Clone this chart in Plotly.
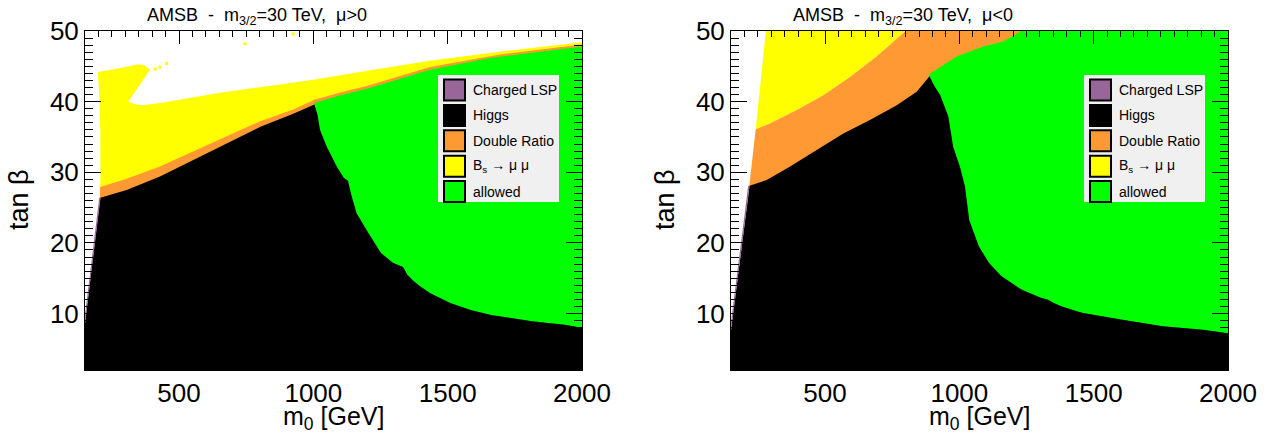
import plotly.graph_objects as go

W, H = 1272, 433

# ---------------------------------------------------------------------------
# Colours of the exclusion classes
# ---------------------------------------------------------------------------
COL_CHARGED = "#996699"
COL_HIGGS = "#000000"
COL_DR = "#ff9933"
COL_BS = "#ffff00"
COL_ALLOWED = "#00ff00"
COL_FRAME = "black"

legend_labels = ["Charged LSP", "Higgs", "Double Ratio",
                 "B<sub>s</sub> \u2192 \u03bc \u03bc", "allowed"]
legend_colors = [COL_CHARGED, COL_HIGGS, COL_DR, COL_BS, COL_ALLOWED]

panel_titles = ["AMSB\u00a0\u00a0-\u00a0\u00a0m<sub>3/2</sub>=30 TeV,\u00a0\u00a0\u03bc>0",
                "AMSB\u00a0\u00a0-\u00a0\u00a0m<sub>3/2</sub>=30 TeV,\u00a0\u00a0\u03bc<0"]

m0_range = [150, 2000]
tb_range = [2, 50]
x_tickvals = [500, 1000, 1500, 2000]
y_tickvals = [10, 20, 30, 40, 50]

# ---------------------------------------------------------------------------
# mu > 0 : region boundaries (m0 [GeV], tan beta)
# ---------------------------------------------------------------------------
pos_bs_m0 = [208, 208, 207, 204, 198, 260, 320, 350, 372, 392, 311, 340, 367,
             450, 550, 677, 850, 1000, 1174, 1434, 1700, 2000, 2000]
pos_bs_tb = [2, 28.0, 36.0, 40.4, 44.2, 44.6, 45.0, 45.3, 45.1, 44.5, 40.0, 39.6,
             39.5, 39.9, 40.6, 41.4, 42.3, 43.1, 44.2, 45.8, 47.1, 48.4, 2]
pos_bs_dots_m0 = [411, 429, 454, 745, 925]
pos_bs_dots_tb = [44.6, 44.9, 45.4, 48.2, 49.6]

pos_dr_m0 = [206, 206, 300, 429, 550, 677, 800, 925, 1006, 1100, 1205, 1434,
             1700, 2000, 2000]
pos_dr_tb = [2, 27.9, 29.0, 30.8, 32.9, 35.1, 37.2, 38.9, 40.3, 41.3, 42.3, 44.9,
             46.7, 48.1, 2]

pos_allowed_m0 = [1004, 1100, 1205, 1434, 1662, 2000, 2000, 1004]
pos_allowed_tb = [39.8, 40.9, 41.9, 44.5, 46.2, 47.8, 2, 2]

pos_higgs_m0 = [150, 150, 207, 305, 429, 553, 677, 801, 925, 1000, 1004, 1015,
                1025, 1050, 1087, 1114, 1129, 1140, 1161, 1205, 1251, 1296, 1334,
                1350, 1373, 1400, 1434, 1510, 1586, 1662, 1815, 1937, 2000, 2000]
pos_higgs_tb = [2, 8.6, 26.4, 27.5, 29.4, 31.7, 34.1, 36.4, 38.3, 39.5, 39.6, 38.2,
                36.0, 33.6, 30.8, 29.2, 28.8, 27.0, 24.2, 21.4, 18.6, 17.2, 16.6,
                15.5, 14.6, 13.8, 12.9, 11.5, 10.5, 9.8, 8.9, 8.4, 8.0, 2]

pos_charged_m0 = [150, 150, 203, 208, 150]
pos_charged_tb = [8.6, 9.8, 26.4, 26.4, 8.6]

# ---------------------------------------------------------------------------
# mu < 0 : region boundaries (m0 [GeV], tan beta)
# ---------------------------------------------------------------------------
neg_bs_m0 = [242, 280, 795, 791, 692, 593, 494, 395, 295, 242]
neg_bs_tb = [36.1, 50, 50, 49.7, 46.4, 43.5, 40.9, 38.8, 36.9, 36.1]

neg_dr_m0 = [218, 242, 295, 395, 494, 593, 692, 791, 800, 2000, 2000, 218]
neg_dr_tb = [28.1, 36.1, 36.9, 38.8, 40.9, 43.5, 46.4, 49.7, 50, 50, 2, 2]

neg_allowed_m0 = [889, 990, 1089, 1163, 1231, 2000, 2000, 889]
neg_allowed_tb = [43.9, 46.4, 47.8, 48.5, 50, 50, 2, 2]

neg_higgs_m0 = [150, 150, 219, 283, 370, 469, 568, 667, 767, 841, 885, 889, 906,
                929, 959, 977, 1002, 1021, 1037, 1050, 1073, 1110, 1156, 1231,
                1306, 1329, 1352, 1382, 1457, 1608, 1759, 1910, 2000, 2000]
neg_higgs_tb = [2, 7.6, 28.1, 28.9, 30.8, 33.1, 35.5, 37.4, 39.5, 41.4, 43.3, 43.6,
                42.3, 40.9, 37.9, 33.6, 30.8, 28.0, 23.2, 21.8, 19.5, 17.2, 15.3,
                13.4, 12.2, 12.0, 11.5, 11.0, 10.1, 9.1, 8.2, 7.7, 7.2, 2]

neg_charged_m0 = [150, 150, 214, 219, 150]
neg_charged_tb = [7.6, 8.8, 28.1, 28.1, 7.6]

panels = [
    dict(layers=[(pos_bs_m0, pos_bs_tb, COL_BS),
                 (pos_dr_m0, pos_dr_tb, COL_DR),
                 (pos_allowed_m0, pos_allowed_tb, COL_ALLOWED),
                 (pos_higgs_m0, pos_higgs_tb, COL_HIGGS),
                 (pos_charged_m0, pos_charged_tb, COL_CHARGED)],
         dots=(pos_bs_dots_m0, pos_bs_dots_tb)),
    dict(layers=[(neg_bs_m0, neg_bs_tb, COL_BS),
                 (neg_dr_m0, neg_dr_tb, COL_DR),
                 (neg_allowed_m0, neg_allowed_tb, COL_ALLOWED),
                 (neg_higgs_m0, neg_higgs_tb, COL_HIGGS),
                 (neg_charged_m0, neg_charged_tb, COL_CHARGED)],
         dots=None),
]

# frame positions in pixels
FRAMES = [(85, 582), (731, 1228)]
FRAME_TOP, FRAME_BOTTOM = 31, 370


def px(x):
    return x / W


def py(y):
    return 1 - y / H


FONT = "Liberation Sans, Arial, Helvetica, sans-serif"

fig = go.Figure()
shapes = []
annotations = []

for i, panel in enumerate(panels):
    xa = "x" if i == 0 else "x2"
    ya = "y" if i == 0 else "y2"
    for xs, ys, col in panel["layers"]:
        fig.add_trace(go.Scatter(x=xs, y=ys, xaxis=xa, yaxis=ya, mode="lines",
                                 fill="toself", fillcolor=col,
                                 line=dict(width=0, color=col),
                                 hoverinfo="skip", showlegend=False))
    if panel["dots"] is not None:
        fig.add_trace(go.Scatter(x=panel["dots"][0], y=panel["dots"][1],
                                 xaxis=xa, yaxis=ya, mode="markers",
                                 marker=dict(symbol="square", size=3, color=COL_BS,
                                             line=dict(width=0)),
                                 hoverinfo="skip", showlegend=False))

    left, right = FRAMES[i]
    # panel title
    annotations.append(dict(text=panel_titles[i], x=px(left + 60), y=py(16),
                            xref="paper", yref="paper", xanchor="left",
                            yanchor="middle", showarrow=False,
                            font=dict(family=FONT, size=18, color="black")))
    # axis titles
    annotations.append(dict(text="m<sub>0</sub> [GeV]", x=px((left + right) / 2),
                            y=py(418), xref="paper", yref="paper",
                            xanchor="center", yanchor="middle", showarrow=False,
                            font=dict(family=FONT, size=25, color="black")))
    annotations.append(dict(text="tan \u03b2", x=px(left - 66), y=py(200),
                            xref="paper", yref="paper", xanchor="center",
                            yanchor="middle", textangle=-90, showarrow=False,
                            font=dict(family=FONT, size=27, color="black")))

    # legend box
    L, T = left + 353, 75
    shapes.append(dict(type="rect", xref="paper", yref="paper",
                       x0=px(L), x1=px(L + 121), y0=py(T), y1=py(T + 127),
                       fillcolor="#f0f0f0", line=dict(width=0), layer="above"))
    for k, (lab, col) in enumerate(zip(legend_labels, legend_colors)):
        cy = T + 15 + 25.4 * k
        shapes.append(dict(type="rect", xref="paper", yref="paper",
                           x0=px(L + 6), x1=px(L + 27), y0=py(cy - 10.5),
                           y1=py(cy + 10.5), fillcolor=col,
                           line=dict(width=2, color="black"), layer="above"))
        annotations.append(dict(text=lab, x=px(L + 33), y=py(cy), xref="paper",
                                yref="paper", xanchor="left", yanchor="middle",
                                showarrow=False,
                                font=dict(family=FONT, size=14, color="black")))

axis_common = dict(showgrid=False, zeroline=False, showline=True, mirror="ticks",
                   linecolor=COL_FRAME, linewidth=1, ticks="inside",
                   tickcolor=COL_FRAME, tickwidth=1, automargin=False,
                   layer="above traces",
                   tickfont=dict(family=FONT, size=26, color="black"))

x_common = dict(axis_common, range=m0_range, tickmode="array",
                tickvals=x_tickvals, ticklen=13,
                minor=dict(dtick=50, tick0=0, ticklen=6, ticks="inside",
                           tickcolor=COL_FRAME, tickwidth=1, showgrid=False))
y_common = dict(axis_common, range=tb_range, tickmode="array",
                tickvals=y_tickvals, ticklen=16,
                minor=dict(dtick=1, tick0=0, ticklen=8, ticks="inside",
                           tickcolor=COL_FRAME, tickwidth=1, showgrid=False))

fig.update_layout(
    template="none",
    width=W, height=H, margin=dict(l=0, r=0, t=0, b=0, autoexpand=False),
    paper_bgcolor="white", plot_bgcolor="white",
    xaxis=dict(x_common, domain=[px(FRAMES[0][0]), px(FRAMES[0][1])], anchor="y"),
    yaxis=dict(y_common, domain=[py(FRAME_BOTTOM), py(FRAME_TOP)], anchor="x"),
    xaxis2=dict(x_common, domain=[px(FRAMES[1][0]), px(FRAMES[1][1])], anchor="y2"),
    yaxis2=dict(y_common, domain=[py(FRAME_BOTTOM), py(FRAME_TOP)], anchor="x2"),
    shapes=shapes, annotations=annotations, showlegend=False,
)

fig.write_html("out.html")
